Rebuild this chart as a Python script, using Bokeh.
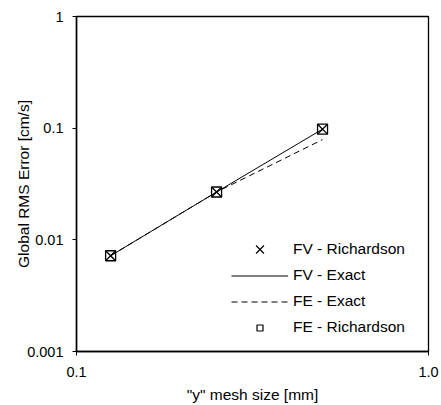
from bokeh.plotting import figure
from bokeh.models import ColumnDataSource, Legend, LegendItem, FixedTicker
from bokeh.embed import file_html
from bokeh.resources import INLINE

# Data
mesh_size = [0.125, 0.25, 0.5]
fv_richardson = [0.0072, 0.0268, 0.098]
fv_exact = [0.0072, 0.0268, 0.098]
fe_exact = [0.0072, 0.0268, 0.079]
fe_richardson = [0.0072, 0.0268, 0.098]

x_ticks = [0.1, 1.0]
x_tick_labels = ["0.1", "1.0"]
y_ticks = [0.001, 0.01, 0.1, 1]
y_tick_labels = ["0.001", "0.01", "0.1", "1"]

FONT = "Liberation Sans"

p = figure(width=441, height=405, x_axis_type="log", y_axis_type="log",
           x_range=(0.1, 1.0), y_range=(0.001, 1),
           output_backend="svg", toolbar_location=None,
           min_border_left=76, min_border_right=13, min_border_top=16, min_border_bottom=52)
p.background_fill_color = "white"
p.border_fill_color = "white"
p.outline_line_color = "black"
p.outline_line_width = 1.3
p.xgrid.visible = False
p.ygrid.visible = False

src = ColumnDataSource(dict(x=mesh_size, fvr=fv_richardson, fve=fv_exact,
                            fee=fe_exact, fer=fe_richardson))

r_fve = p.line("x", "fve", source=src, line_color="black", line_width=1)
r_fee = p.line("x", "fee", source=src, line_color="black", line_width=1, line_dash="6 4")
r_fvr = p.scatter("x", "fvr", source=src, marker="x", size=14, line_color="black", line_width=1.3)
r_fer = p.scatter("x", "fer", source=src, marker="square", size=10, line_color="black",
                  fill_color=None, line_width=1.3)

# legend-only renderers (a single NaN placeholder, never drawn in the plot)
legend_src = ColumnDataSource(dict(x=[float("nan")], y=[float("nan")]))
l_fvr = p.scatter("x", "y", source=legend_src, marker="x", size=7,
                  line_color="black", line_width=1.2)
l_fer = p.scatter("x", "y", source=legend_src, marker="square", size=6,
                  line_color="black", fill_color=None, line_width=1.2)


def style_legend(lg):
    lg.border_line_color = None
    lg.background_fill_alpha = 0
    lg.padding = 0
    lg.margin = 0
    lg.glyph_width = 57
    lg.label_standoff = 5
    lg.label_text_font = FONT
    lg.label_text_font_size = "15.5px"
    lg.label_text_color = "black"


legend_a = Legend(items=[LegendItem(label="FV - Richardson", renderers=[l_fvr])],
                  location=(155, 88))
style_legend(legend_a)
legend_a.glyph_height = 28
legend_a.label_height = 28

legend_b = Legend(items=[
    LegendItem(label="FV - Exact", renderers=[r_fve]),
    LegendItem(label="FE - Exact", renderers=[r_fee]),
    LegendItem(label="FE - Richardson", renderers=[l_fer]),
], location=(155, 14))
style_legend(legend_b)
legend_b.spacing = 6
legend_b.glyph_height = 15
legend_b.label_height = 20

p.add_layout(legend_a)
p.add_layout(legend_b)

for ax in (p.xaxis[0], p.yaxis[0]):
    ax.axis_line_color = "black"
    ax.axis_line_width = 1.5
    ax.major_tick_line_color = "black"
    ax.major_tick_out = 4
    ax.major_tick_in = 0
    ax.minor_tick_line_color = None
    ax.major_label_text_font = FONT
    ax.major_label_text_font_size = "14.5px"
    ax.major_label_text_color = "black"
    ax.axis_label_text_font = FONT
    ax.axis_label_text_font_size = "15.5px"
    ax.axis_label_text_font_style = "normal"
    ax.axis_label_text_color = "black"

p.xaxis.ticker = FixedTicker(ticks=x_ticks)
p.yaxis.ticker = FixedTicker(ticks=y_ticks)
p.xaxis.major_label_overrides = {t: l for t, l in zip(x_ticks, x_tick_labels)}
p.yaxis.major_label_overrides = {t: l for t, l in zip(y_ticks, y_tick_labels)}
p.xaxis.axis_label = '"y" mesh size [mm]'
p.yaxis.axis_label = "Global RMS Error [cm/s]"
p.xaxis.major_label_standoff = 11
p.yaxis.major_label_standoff = 9
p.xaxis.axis_label_standoff = 6
p.yaxis.axis_label_standoff = -8

open("out.html", "w").write(file_html(p, INLINE))
